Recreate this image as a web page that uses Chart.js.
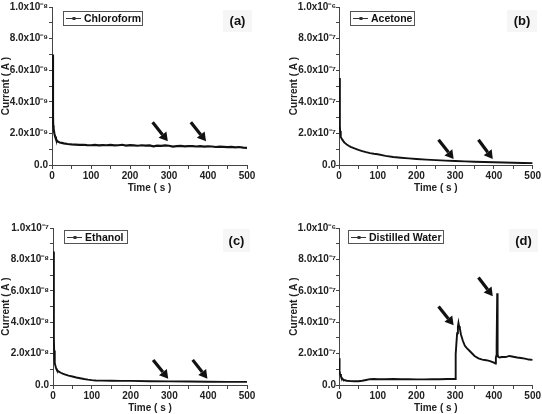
<!DOCTYPE html>
<html><head><meta charset="utf-8">
<script src="https://cdn.jsdelivr.net/npm/chart.js@4.4.1/dist/chart.umd.min.js"></script>
<style>
html,body{margin:0;padding:0;background:#fff;}
body{width:542px;height:414px;position:relative;overflow:hidden;}
canvas{position:absolute;}
</style></head><body>
<canvas id="cA" width="262" height="207" style="left:0;top:0"></canvas>
<canvas id="cB" width="271" height="207" style="left:271px;top:0"></canvas>
<canvas id="cC" width="262" height="207" style="left:0;top:207px"></canvas>
<canvas id="cD" width="271" height="207" style="left:271px;top:207px"></canvas>
<script>
// ---------- data (time in s, current in A) ----------
const chloroformTime = [2,2.5,3,4,6,8,10,12,15,20,25,30,40,50,60,70,80,90,100,110,120,130,140,150,160,170,180,190,200,210,220,230,240,250,260,270,280,290,300,310,320,330,340,350,360,370,380,390,400,410,420,430,440,450,460,470,480,490,500];
const chloroformCurrent = [7.0e-9,3.1e-9,2.5e-9,2.3e-9,2.0e-9,1.8e-9,1.65e-9,1.58e-9,1.48e-9,1.42e-9,1.40e-9,1.37e-9,
  1.33e-9,1.30e-9,1.29e-9,1.27e-9,1.28e-9,1.26e-9,1.25e-9,1.27e-9,1.24e-9,1.26e-9,
  1.25e-9,1.27e-9,1.24e-9,1.25e-9,1.28e-9,1.23e-9,1.26e-9,1.24e-9,1.22e-9,1.25e-9,
  1.23e-9,1.24e-9,1.18e-9,1.22e-9,1.21e-9,1.24e-9,1.22e-9,1.17e-9,1.20e-9,1.21e-9,
  1.18e-9,1.20e-9,1.19e-9,1.17e-9,1.19e-9,1.16e-9,1.18e-9,1.17e-9,1.14e-9,1.16e-9,
  1.15e-9,1.13e-9,1.15e-9,1.12e-9,1.14e-9,1.10e-9,1.08e-9];

const acetoneTime = [1.5,2,2.5,3,4,5,8,10,15,20,25,30,40,50,60,70,80,90,100,120,140,160,180,200,225,250,275,300,325,350,375,400,425,450,475,500];
const acetoneCurrent = [5.5e-7,3.2e-7,2.5e-7,2.15e-7,1.95e-7,1.78e-7,1.62e-7,1.55e-7,1.40e-7,1.30e-7,1.22e-7,1.15e-7,
  1.05e-7,0.96e-7,0.88e-7,0.81e-7,0.75e-7,0.71e-7,0.68e-7,0.58e-7,0.51e-7,0.46e-7,0.42e-7,0.38e-7,
  0.34e-7,0.31e-7,0.28e-7,0.25e-7,0.23e-7,0.21e-7,0.19e-7,0.17e-7,0.155e-7,0.14e-7,0.13e-7,0.12e-7];

const ethanolTime = [1.5,2,2.5,3,4,5,8,10,15,20,25,30,40,50,60,70,80,90,100,110,125,150,175,200,250,300,350,400,450,500];
const ethanolCurrent = [8.5e-8,4.5e-8,3.0e-8,2.2e-8,1.8e-8,1.4e-8,1.05e-8,0.95e-8,0.85e-8,0.78e-8,0.72e-8,0.68e-8,
  0.60e-8,0.54e-8,0.48e-8,0.43e-8,0.38e-8,0.34e-8,0.31e-8,0.29e-8,0.28e-8,0.27e-8,0.26e-8,0.26e-8,
  0.24e-8,0.23e-8,0.22e-8,0.21e-8,0.20e-8,0.20e-8];

const waterTime = [0.5,1,2,3,5,8,10,15,20,30,40,50,60,70,80,90,100,120,140,160,180,200,220,240,260,280,300,
  301,301.5,303,305,307,308.5,310,312,315,320,325,330,340,350,360,370,380,390,400,
  404,405,406,407,408.5,409.5,411,415,420,430,440,450,460,470,480,490,500];
const waterCurrent = [1.7e-7,1.3e-7,0.9e-7,0.7e-7,0.55e-7,0.42e-7,0.36e-7,0.30e-7,0.27e-7,
  0.25e-7,0.24e-7,0.24e-7,0.27e-7,0.32e-7,0.37e-7,0.38e-7,0.37e-7,
  0.37e-7,0.38e-7,0.37e-7,0.37e-7,0.36e-7,0.36e-7,0.37e-7,0.37e-7,0.38e-7,0.38e-7,
  0.39e-7,1.95e-7,2.6e-7,3.3e-7,3.7e-7,3.95e-7,3.75e-7,3.6e-7,3.2e-7,2.8e-7,
  2.5e-7,2.35e-7,2.1e-7,1.85e-7,1.7e-7,1.62e-7,1.58e-7,1.52e-7,1.42e-7,
  1.36e-7,1.75e-7,1.85e-7,2.5e-7,5.85e-7,1.95e-7,1.8e-7,1.75e-7,1.78e-7,
  1.78e-7,1.85e-7,1.8e-7,1.75e-7,1.72e-7,1.68e-7,1.62e-7,1.6e-7];

// ---------- ticks ----------
const timeTicks = [0,50,100,150,200,250,300,350,400,450,500];
const timeTickLabels = ['0','','100','','200','','300','','400','','500'];

const yTicksA = [0,1e-9,2e-9,3e-9,4e-9,5e-9,6e-9,7e-9,8e-9,9e-9,1e-8];
const yLabelsA = ['0.0','','2.0x10\u207B\u2079','','4.0x10\u207B\u2079','','6.0x10\u207B\u2079','','8.0x10\u207B\u2079','','1.0x10\u207B\u2078'];
const yTicksB = [0,1e-7,2e-7,3e-7,4e-7,5e-7,6e-7,7e-7,8e-7,9e-7,1e-6];
const yLabelsB = ['0.0','','2.0x10\u207B\u2077','','4.0x10\u207B\u2077','','6.0x10\u207B\u2077','','8.0x10\u207B\u2077','','1.0x10\u207B\u2076'];
const yTicksC = [0,1e-8,2e-8,3e-8,4e-8,5e-8,6e-8,7e-8,8e-8,9e-8,1e-7];
const yLabelsC = ['0.0','','2.0x10\u207B\u2078','','4.0x10\u207B\u2078','','6.0x10\u207B\u2078','','8.0x10\u207B\u2078','','1.0x10\u207B\u2077'];
const yTicksD = yTicksB;
const yLabelsD = yLabelsB;

// ---------- arrows: [tailTime, tailCurrent, headTime, headCurrent] ----------
const arrowsA = [[258,2.7e-9,297,1.5e-9],[356,2.7e-9,395,1.5e-9]];
const arrowsB = [[257,1.6e-7,296,0.38e-7],[360,1.6e-7,397,0.38e-7]];
const arrowsC = [[258,1.6e-8,297,0.4e-8],[360,1.6e-8,398,0.4e-8]];
const arrowsD = [[257,5.0e-7,296,3.8e-7],[360,6.85e-7,397,5.65e-7]];

const FONT = '"Liberation Sans", Arial, Helvetica, sans-serif';

const decor = {
  id: 'decor',
  afterDraw(chart, args, o) {
    const ctx = chart.ctx, xs = chart.scales.x, ys = chart.scales.y;
    ctx.save();
    // panel tag
    const [tx, ty, tw, th] = o.tagBox;
    ctx.fillStyle = 'rgba(0,0,0,0.035)';
    ctx.fillRect(tx, ty, tw, th);
    ctx.fillStyle = '#111';
    ctx.font = 'bold 13px ' + FONT;
    ctx.textAlign = 'center'; ctx.textBaseline = 'middle';
    ctx.fillText(o.tag, tx + tw / 2, ty + th / 2 + 0.5);
    // legend
    const [lx, ly, lw, lh] = o.legendBox;
    ctx.fillStyle = '#fff'; ctx.fillRect(lx, ly, lw, lh);
    ctx.strokeStyle = '#555'; ctx.lineWidth = 1;
    ctx.strokeRect(lx + 0.5, ly + 0.5, lw, lh);
    const cy = Math.round(ly + lh / 2) + 0.5;
    ctx.strokeStyle = '#333';
    ctx.beginPath(); ctx.moveTo(lx + 3, cy); ctx.lineTo(lx + 18, cy); ctx.stroke();
    ctx.fillStyle = '#333'; ctx.fillRect(lx + 9.5, cy - 1.5, 3, 3);
    ctx.fillStyle = '#111';
    ctx.font = 'bold 10.5px ' + FONT;
    ctx.textAlign = 'left'; ctx.textBaseline = 'middle';
    ctx.fillText(chart.data.datasets[0].label, lx + 21, cy + 0.5);
    // arrows
    ctx.strokeStyle = '#111'; ctx.fillStyle = '#111';
    o.arrows.forEach(a => {
      const x0 = xs.getPixelForValue(a[0]), y0 = ys.getPixelForValue(a[1]);
      const x1 = xs.getPixelForValue(a[2]), y1 = ys.getPixelForValue(a[3]);
      const ang = Math.atan2(y1 - y0, x1 - x0), hl = 8.5, hw = 5;
      const bx = x1 - hl * Math.cos(ang), by = y1 - hl * Math.sin(ang);
      ctx.lineWidth = 3.2; ctx.lineCap = 'butt';
      ctx.beginPath(); ctx.moveTo(x0, y0); ctx.lineTo(bx, by); ctx.stroke();
      ctx.beginPath(); ctx.moveTo(x1, y1);
      ctx.lineTo(bx + hw * Math.sin(ang), by - hw * Math.cos(ang));
      ctx.lineTo(bx - hw * Math.sin(ang), by + hw * Math.cos(ang));
      ctx.closePath(); ctx.fill();
    });
    ctx.restore();
  }
};

function makePanel(id, p) {
  const font = {family: FONT, size: 10, weight: 'bold'};
  return new Chart(document.getElementById(id), {
    type: 'line',
    data: {datasets: [{
      label: p.label,
      data: p.time.map((t, i) => ({x: t, y: p.current[i]})),
      borderColor: '#111', borderWidth: p.lineWidth, pointRadius: 0, tension: 0, fill: false
    }]},
    options: {
      responsive: false, animation: false, devicePixelRatio: 1,
      layout: {padding: {left: 0, top: p.padTop, right: p.padRight, bottom: p.padBottom}},
      plugins: {
        legend: {display: false}, tooltip: {enabled: false},
        decor: {tag: p.tag, tagBox: p.tagBox, legendBox: p.legendBox, arrows: p.arrows}
      },
      scales: {
        x: {
          type: 'linear', min: 0, max: 500,
          afterFit: s => { s.height = 29; },
          afterBuildTicks: s => { s.ticks = timeTicks.map(v => ({value: v})); },
          ticks: {autoSkip: false, maxRotation: 0, padding: 1, color: '#222', font,
                  callback: (v, i) => timeTickLabels[i]},
          grid: {display: true, drawOnChartArea: false, drawTicks: true, tickLength: 4, tickColor: '#444'},
          border: {display: true, color: '#444', width: 1},
          title: {display: true, text: 'Time ( s )', color: '#222', font, padding: {top: 0, bottom: 0}}
        },
        y: {
          type: 'linear', min: 0, max: p.yTicks[p.yTicks.length - 1],
          afterFit: s => { s.width = p.yWidth; },
          afterBuildTicks: s => { s.ticks = p.yTicks.map(v => ({value: v})); },
          ticks: {autoSkip: false, padding: p.yTickPad, color: '#222', font,
                  callback: (v, i) => p.yLabels[i]},
          grid: {display: true, drawOnChartArea: false, drawTicks: true, tickLength: 3, tickColor: '#444'},
          border: {display: true, color: '#444', width: 1},
          title: {display: true, text: 'Current ( A )', color: '#222', font, padding: {top: p.yTitlePad, bottom: 0}}
        }
      }
    },
    plugins: [decor]
  });
}

makePanel('cA', {label: 'Chloroform', time: chloroformTime, current: chloroformCurrent, lineWidth: 2.2,
  yTicks: yTicksA, yLabels: yLabelsA, yWidth: 52, yTickPad: 1, yTitlePad: 0.5,
  padTop: 7, padRight: 15, padBottom: 13, tag: '(a)', tagBox: [223, 10, 29, 22],
  legendBox: [63, 11, 79, 14], arrows: arrowsA});
makePanel('cB', {label: 'Acetone', time: acetoneTime, current: acetoneCurrent, lineWidth: 1.9,
  yTicks: yTicksB, yLabels: yLabelsB, yWidth: 68, yTickPad: 0, yTitlePad: 17.5,
  padTop: 7, padRight: 8, padBottom: 13, tag: '(b)', tagBox: [236, 10, 30, 22],
  legendBox: [79, 11, 64, 14], arrows: arrowsB});
makePanel('cC', {label: 'Ethanol', time: ethanolTime, current: ethanolCurrent, lineWidth: 1.9,
  yTicks: yTicksC, yLabels: yLabelsC, yWidth: 53, yTickPad: 1, yTitlePad: 0.5,
  padTop: 21, padRight: 15, padBottom: 0, tag: '(c)', tagBox: [223, 22, 27, 23],
  legendBox: [64, 23, 63, 13], arrows: arrowsC});
makePanel('cD', {label: 'Distilled Water', time: waterTime, current: waterCurrent, lineWidth: 1.9,
  yTicks: yTicksD, yLabels: yLabelsD, yWidth: 68, yTickPad: 0, yTitlePad: 17.5,
  padTop: 21, padRight: 8, padBottom: 0, tag: '(d)', tagBox: [238, 22, 29, 23],
  legendBox: [77, 23, 95, 13], arrows: arrowsD});
</script>
</body></html>
